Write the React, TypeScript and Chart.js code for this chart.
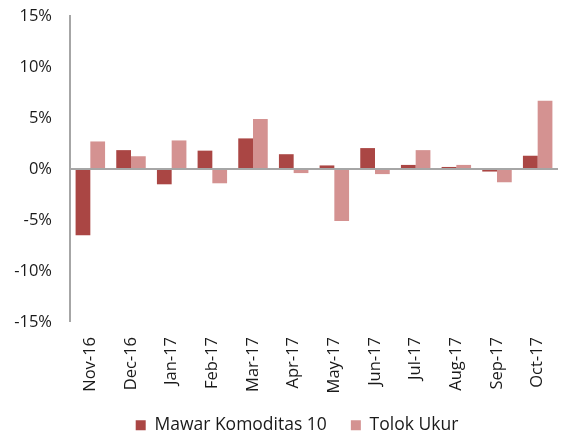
import React, { useEffect, useRef } from "react";
import { Chart, registerables } from "chart.js";

Chart.register(...registerables);

const categories = ["Nov-16", "Dec-16", "Jan-17", "Feb-17", "Mar-17", "Apr-17", "May-17", "Jun-17", "Jul-17", "Aug-17", "Sep-17", "Oct-17"];
const mawar = [-6.5, 1.85, -1.5, 1.8, 3.0, 1.45, 0.35, 2.05, 0.4, 0.2, -0.25, 1.3];
const tolok = [2.7, 1.25, 2.8, -1.4, 4.9, -0.4, -5.1, -0.5, 1.85, 0.4, -1.3, 6.7];
const yTicks = [-15, -10, -5, 0, 5, 10, 15];

const FONT = "'Open Sans', Lato, sans-serif";

const shiftLegend = {
  id: "shiftLegend",
  afterLayout(chart: any) {
    const l = chart.legend;
    if (l) {
      l.left += 18;
      l.right += 18;
    }
  },
};

export default function App() {
  const ref = useRef<HTMLCanvasElement | null>(null);
  useEffect(() => {
    if (!ref.current) return;
    const chart = new Chart(ref.current, {
      type: "bar",
      data: {
        labels: categories,
        datasets: [
          { label: "Mawar Komoditas 10", data: mawar, backgroundColor: "#aa4644", borderWidth: 0 },
          { label: "Tolok Ukur", data: tolok, backgroundColor: "#d49291", borderWidth: 0 },
        ],
      },
      plugins: [shiftLegend],
      options: {
        animation: false,
        responsive: false,
        maintainAspectRatio: false,
        layout: { padding: { left: 0, right: 10, top: 16, bottom: 0 } },
        datasets: { bar: { categoryPercentage: 0.725, barPercentage: 1 } },
        plugins: {
          tooltip: { enabled: false },
          legend: {
            position: "bottom",
            labels: { boxWidth: 10, boxHeight: 10, padding: 24, color: "#1a1a1a", font: { family: FONT, size: 17.5 } },
          },
        },
        scales: {
          x: {
            grid: { display: false, drawTicks: false },
            border: { display: false },
            ticks: { minRotation: 90, maxRotation: 90, padding: 15, color: "#1a1a1a", font: { family: FONT, size: 16.5 }, autoSkip: false },
            afterFit: (s: any) => { s.height = 70.5; s.paddingLeft = 0; s.paddingRight = 0; },
          },
          y: {
            min: -15,
            max: 15,
            afterBuildTicks: (s: any) => { s.ticks = yTicks.map((v) => ({ value: v })); },
            grid: {
              drawTicks: false,
              color: (c: any) => (c.tick && c.tick.value === 0 ? "#a6a6a6" : "rgba(0,0,0,0)"),
              lineWidth: (c: any) => (c.tick && c.tick.value === 0 ? 2 : 0),
            },
            border: { display: true, color: "#a6a6a6", width: 2 },
            ticks: { padding: 18, color: "#1a1a1a", font: { family: FONT, size: 16.5 }, callback: (v: any) => v + "%" },
            afterFit: (s: any) => { s.width = 70; s.paddingTop = 0; s.paddingBottom = 0; },
          },
        },
      },
    });
    return () => chart.destroy();
  }, []);
  return (
    <div style={{ position: "fixed", left: 0, top: 0, width: 568, height: 437, overflow: "hidden", background: "#fff" }}>
      <canvas ref={ref} width={568} height={444} style={{ display: "block" }} />
    </div>
  );
}
